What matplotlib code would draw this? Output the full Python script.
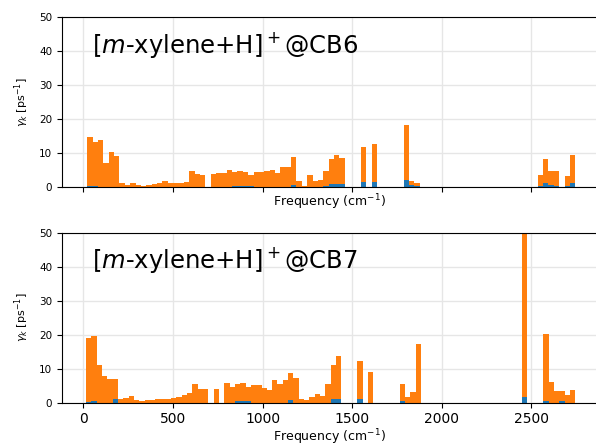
import matplotlib
matplotlib.use("Agg")
import matplotlib.pyplot as plt
import numpy as np

# histogram bin edges (cm^-1) for each cage
edges_cb6 = np.linspace(22, 2745.5, 92)
edges_cb7 = np.linspace(15, 2745.6, 93)

# total gamma_k per bin (ps^-1)
total_cb6 = [14.7, 13.2, 13.7, 7.0, 10.4, 9.2, 1.2, 0.7, 1.2, 0.6,
             0.3, 0.5, 1.0, 1.2, 1.7, 1.3, 1.3, 1.3, 1.5, 4.7,
             3.7, 3.6, 0.0, 3.8, 4.2, 4.2, 5.0, 4.5, 4.6, 4.4,
             3.5, 4.3, 4.3, 4.6, 4.9, 4.0, 5.9, 5.8, 8.7, 1.7,
             0.4, 3.6, 1.9, 2.2, 4.7, 8.2, 9.4, 8.5, 0.0, 0.0,
             0.0, 11.8, 0.0, 12.6, 0.0, 0.0, 0.0, 0.0, 0.0, 18.3,
             1.9, 1.3, 0.0, 0.0, 0.0, 0.0, 0.0, 0.0, 0.0, 0.0,
             0.0, 0.0, 0.0, 0.0, 0.0, 0.0, 0.0, 0.0, 0.0, 0.0,
             0.0, 0.0, 0.0, 0.0, 3.4, 8.3, 4.7, 4.8, 0.0, 3.2,
             9.4]
# blue (first) contribution per bin
blue_cb6 = np.zeros(91)
blue_cb6[[0, 1, 27, 28, 29, 30, 38, 44, 45, 46, 47]] = [0.2, 0.3, 0.3, 0.3, 0.3, 0.3, 0.5, 0.3, 0.8, 1.0, 0.8]
blue_cb6[[51, 53, 59, 60, 61]] = [1.5, 1.5, 2.1, 0.5, 0.3]
blue_cb6[[84, 85, 86, 87, 89, 90]] = [0.3, 1.2, 0.6, 0.4, 0.3, 1.2]

total_cb7 = [19.0, 19.6, 11.0, 7.9, 6.9, 7.0, 1.0, 1.4, 1.8, 0.7,
             0.3, 0.6, 0.7, 1.1, 0.9, 1.1, 1.2, 1.5, 2.1, 2.9,
             5.5, 4.1, 4.1, 0.0, 4.1, 0.0, 5.7, 4.6, 5.5, 5.7,
             4.5, 5.2, 5.2, 4.4, 3.8, 6.7, 5.4, 6.6, 8.6, 7.2,
             1.0, 0.8, 1.6, 2.6, 1.9, 5.3, 11.1, 13.6, 0.0, 0.0,
             0.0, 12.1, 0.0, 9.0, 0.0, 0.0, 0.0, 0.0, 0.0, 5.4,
             1.5, 3.0, 17.1, 0.0, 0.0, 0.0, 0.0, 0.0, 0.0, 0.0,
             0.0, 0.0, 0.0, 0.0, 0.0, 0.0, 0.0, 0.0, 0.0, 0.0,
             0.0, 0.0, 55.0, 0.0, 0.0, 0.0, 20.2, 6.1, 3.3, 3.4,
             2.2, 3.6]
blue_cb7 = np.zeros(92)
blue_cb7[[0, 1, 5, 28, 29, 30, 38, 46, 47]] = [0.2, 0.5, 0.9, 0.3, 0.3, 0.3, 0.7, 1.0, 0.9]
blue_cb7[[51, 59, 82, 86, 89]] = [1.0, 0.5, 1.7, 0.5, 0.3]

labels = [r"[$m$-xylene+H]$^+$@CB6", r"[$m$-xylene+H]$^+$@CB7"]

fig = plt.figure(figsize=(5.96, 4.45), dpi=100)
ax1 = fig.add_axes([0.104, 0.5798, 0.896, 0.382])
ax2 = fig.add_axes([0.104, 0.0955, 0.896, 0.382])

panels = [(ax1, edges_cb6, total_cb6, blue_cb6, labels[0]),
          (ax2, edges_cb7, total_cb7, blue_cb7, labels[1])]

for ax, edges, total, blue, lab in panels:
    total = np.array(total)
    w = np.diff(edges)
    orange = total - blue
    ax.bar(edges[:-1], blue, width=w, align='edge', color='tab:blue', linewidth=0, zorder=2)
    ax.bar(edges[:-1], orange, width=w, bottom=blue, align='edge', color='tab:orange',
           linewidth=0, zorder=2)
    ax.set_xlim(-119, 2861)
    ax.set_ylim(0, 50)
    ax.set_xticks([0, 500, 1000, 1500, 2000, 2500])
    ax.set_yticks([0, 10, 20, 30, 40, 50])
    ax.grid(True, color='#e6e6e6', linewidth=1.0, zorder=0)
    ax.set_axisbelow(True)
    ax.spines['right'].set_visible(False)
    ax.tick_params(axis='y', labelsize=7.5)
    ax.tick_params(axis='x', labelsize=10)
    ax.set_ylabel(r"$\gamma_k$ [ps$^{-1}$]", fontsize=8, labelpad=6)
    ax.set_xlabel(r"Frequency (cm$^{-1}$)", fontsize=9, labelpad=0.5)
    ax.text(0.056, 0.79, lab, transform=ax.transAxes, fontsize=17.5, va='baseline')

ax1.tick_params(axis='x', labelbottom=False)

fig.savefig("out.png", dpi=100)
